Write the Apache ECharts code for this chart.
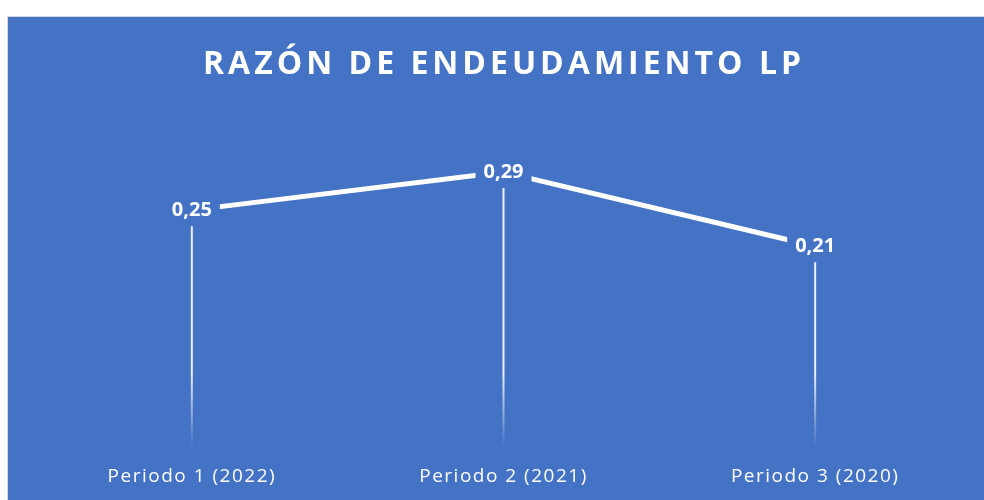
<!DOCTYPE html>
<html lang="es">
<head>
    <meta charset="UTF-8">
    <title>Razón de endeudamiento LP</title>
    <style>
        html, body { margin: 0; padding: 0; background: #fff; overflow: hidden; }
        #main {
            position: absolute; left: 7px; top: 16px;
            width: 977px; height: 484px;
            background: #4472C4;
            border-left: 1px solid #D9D9D9;
            border-top: 1px solid #D9D9D9;
        }
    </style>
</head>
<body>

<div id="main"></div>

<script src="https://cdn.jsdelivr.net/npm/echarts@6/dist/echarts.min.js"></script>
<script type="text/javascript">
    // datos
    var periodos = ['Periodo 1 (2022)', 'Periodo 2 (2021)', 'Periodo 3 (2020)'];
    var razon = [0.25, 0.29, 0.212];

    // espaciado entre letras (zrender no lo trae): segun tamaño de fuente
    var espaciado = {'32px': '4px', '19px': '1.5px'};
    var fillText0 = CanvasRenderingContext2D.prototype.fillText;
    CanvasRenderingContext2D.prototype.fillText = function (t, x, y, w) {
        var m = /(\d+)px/.exec(this.font);
        this.letterSpacing = (m && espaciado[m[0]]) || '0px';
        var r = w === undefined ? fillText0.call(this, t, x, y) : fillText0.call(this, t, x, y, w);
        this.letterSpacing = '0px';
        return r;
    };

    var myChart = echarts.init(document.getElementById('main'));

    // linea de caida con degradado hacia el eje
    var caida = {
        type: 'linear', x: 0, y: 355, x2: 0, y2: 430, global: true,
        colorStops: [
            {offset: 0, color: 'rgba(255,255,255,0.9)'},
            {offset: 1, color: 'rgba(255,255,255,0)'}
        ]
    };

    var option = {
        title: {
            text: 'RAZÓN DE ENDEUDAMIENTO LP',
            left: 491,
            top: 27,
            textAlign: 'center',
            textStyle: {
                color: '#fff',
                fontFamily: 'Open Sans',
                fontWeight: 'bold',
                fontSize: 32
            }
        },
        grid: {left: 28, right: 14, top: 98, bottom: 53},
        xAxis: {
            type: 'category',
            data: periodos,
            axisLine: {show: false},
            axisTick: {show: false},
            axisLabel: {
                color: '#fff',
                fontFamily: 'Open Sans',
                fontSize: 19,
                margin: 19
            }
        },
        yAxis: {
            type: 'value',
            min: 0,
            max: 0.35,
            show: false
        },
        series: [
            {
                type: 'bar',
                data: razon,
                barWidth: 2,
                silent: true,
                itemStyle: {color: caida},
                z: 1
            },
            {
                type: 'line',
                data: razon,
                symbol: 'circle',
                symbolSize: 4,
                itemStyle: {color: '#fff'},
                z: 5,
                lineStyle: {color: '#fff', width: 5},
                label: {
                    show: true,
                    position: 'inside',
                    formatter: function (p) {
                        return p.value.toFixed(2).replace('.', ',');
                    },
                    color: '#fff',
                    fontFamily: 'Open Sans',
                    fontWeight: 'bold',
                    fontSize: 20,
                    backgroundColor: '#4472C4',
                    padding: [6, 8]
                }
            }
        ]
    };

    myChart.setOption(option);
</script>
</body>
</html>
